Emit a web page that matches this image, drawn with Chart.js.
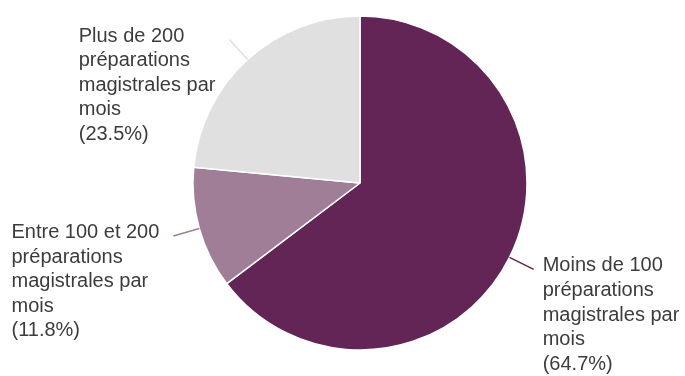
<!DOCTYPE html>
<html>
<head>
<meta charset="utf-8">
<script src="https://cdn.jsdelivr.net/npm/chart.js@4"></script>
<style>
  html, body { margin: 0; padding: 0; background: #fff; }
  #wrap { width: 685px; height: 376px; }
</style>
</head>
<body>
<div id="wrap"><canvas id="pieChart" width="685" height="376"></canvas></div>
<script>
// data
var categories = ["Moins de 100 préparations magistrales par mois",
                  "Entre 100 et 200 préparations magistrales par mois",
                  "Plus de 200 préparations magistrales par mois"];
var labelLines = [
  ["Moins de 100", "préparations", "magistrales par", "mois"],
  ["Entre 100 et 200", "préparations", "magistrales par", "mois"],
  ["Plus de 200", "préparations", "magistrales par", "mois"]
];
var percents = [64.7, 11.8, 23.5];
var colors = ["#632456", "#a17e98", "#e0e0e0"];

var FONT = '20px "Liberation Sans", Arial, sans-serif';

// labels outside with a short leader line
var outLabels = {
  id: "outLabels",
  afterDraw: function (chart) {
    var ctx = chart.ctx;
    var meta = chart.getDatasetMeta(0);
    ctx.save();
    ctx.font = FONT;
    ctx.textBaseline = "alphabetic";
    ctx.textAlign = "left";
    meta.data.forEach(function (arc, i) {
      var mid = (arc.startAngle + arc.endAngle) / 2;
      var r = arc.outerRadius;
      var x1 = arc.x + Math.cos(mid) * r, y1 = arc.y + Math.sin(mid) * r;
      var x2 = arc.x + Math.cos(mid) * (r + 27), y2 = arc.y + Math.sin(mid) * (r + 27);
      ctx.strokeStyle = colors[i];
      ctx.lineWidth = 1.5;
      ctx.beginPath();
      ctx.moveTo(x1, y1);
      ctx.lineTo(x2, y2);
      ctx.stroke();

      var lines = labelLines[i].concat(["(" + percents[i].toFixed(1) + "%)"]);
      var w = 0;
      lines.forEach(function (t) { w = Math.max(w, ctx.measureText(t).width); });
      var left = Math.cos(mid) >= 0 ? x2 + 9 : x2 - 14 - w;
      ctx.fillStyle = "#3c3c3c";
      lines.forEach(function (t, k) {
        ctx.fillText(t, left, y2 + 2 + k * 24.6);
      });
    });
    ctx.restore();
  }
};

var ctxP = document.getElementById("pieChart").getContext("2d");
var myPie = new Chart(ctxP, {
  type: "pie",
  data: {
    labels: categories,
    datasets: [
      {
        data: percents,
        backgroundColor: colors,
        borderColor: "#ffffff",
        borderWidth: 1.5,
        radius: 167
      }
    ]
  },
  options: {
    responsive: false,
    animation: false,
    layout: { padding: { left: 35, right: 0, top: 0, bottom: 10 } },
    plugins: {
      legend: { display: false },
      tooltip: { enabled: false }
    }
  },
  plugins: [outLabels]
});
</script>
</body>
</html>
